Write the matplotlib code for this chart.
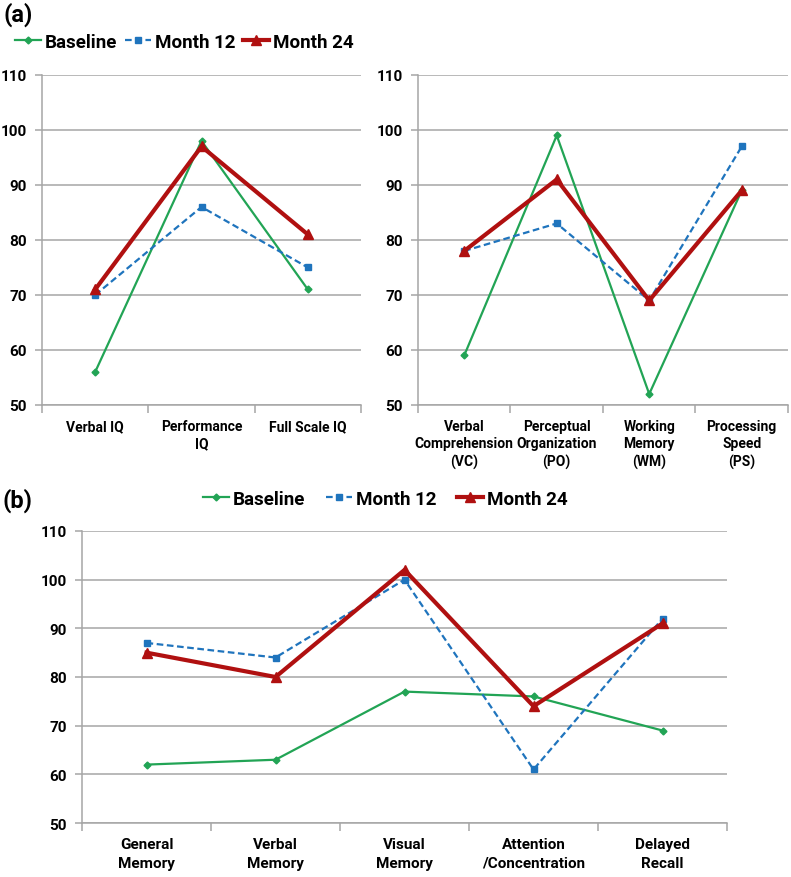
import matplotlib.pyplot as plt
import numpy as np

plt.rcParams['font.family'] = ['Roboto', 'DejaVu Sans']
plt.rcParams['font.weight'] = 'bold'

# Data
iq_labels = ['Verbal IQ', 'Performance\nIQ', 'Full Scale IQ']
iq_baseline = [56, 98, 71]
iq_month12 = [70, 86, 75]
iq_month24 = [71, 97, 81]

idx_labels = ['Verbal\nComprehension\n(VC)', 'Perceptual\nOrganization\n(PO)',
              'Working\nMemory\n(WM)', 'Processing\nSpeed\n(PS)']
idx_baseline = [59, 99, 52, 89]
idx_month12 = [78, 83, 69, 97]
idx_month24 = [78, 91, 69, 89]

mem_labels = ['General\nMemory', 'Verbal\nMemory', 'Visual\nMemory',
              'Attention\n/Concentration', 'Delayed\nRecall']
mem_baseline = [62, 63, 77, 76, 69]
mem_month12 = [87, 84, 100, 61, 92]
mem_month24 = [85, 80, 102, 74, 91]

GREEN = '#22a455'
BLUE = '#1f74bd'
RED = '#b01010'
GRID = '#a6a6a6'


def draw_panel(ax, labels, base, m12, m24, label_size=10, spacing=1.3):
    x = np.arange(len(labels))
    l1, = ax.plot(x, base, color=GREEN, lw=1.6, marker='D', ms=3.5, label='Baseline')
    l2, = ax.plot(x, m12, color=BLUE, lw=1.6, ls=(0, (3, 1.6)), marker='s', ms=5,
                  label='Month 12')
    l3, = ax.plot(x, m24, color=RED, lw=3, marker='^', ms=7, label='Month 24')
    ax.set_xlim(-0.5, len(labels) - 0.5)
    ax.set_ylim(50, 110)
    ax.set_yticks(range(50, 111, 10))
    ax.grid(axis='y', color=GRID, lw=1.1)
    ax.set_axisbelow(True)
    for s in ['top', 'right']:
        ax.spines[s].set_visible(False)
    for s in ['left', 'bottom']:
        ax.spines[s].set_color(GRID)
        ax.spines[s].set_linewidth(1.1)
    ax.set_xticks(x)
    ax.set_xticklabels(labels, fontsize=label_size, fontweight='bold', linespacing=spacing)
    ax.tick_params(axis='x', which='major', length=0, pad=10)
    ax.set_xticks(np.arange(-0.5, len(labels)), minor=True)
    ax.tick_params(axis='x', which='minor', length=6, color=GRID, width=1.1)
    ax.tick_params(axis='y', length=5, color=GRID, width=1.1, labelsize=11, pad=6)
    for t in ax.get_yticklabels():
        t.set_fontweight('bold')
    return [l1, l2, l3]


fig = plt.figure(figsize=(7.91, 8.78), dpi=100)

ax1 = fig.add_axes([0.0531, 0.5376, 0.4033, 0.3759])
handles = draw_panel(ax1, iq_labels, iq_baseline, iq_month12, iq_month24)

ax2 = fig.add_axes([0.5284, 0.5376, 0.4678, 0.3759])
draw_panel(ax2, idx_labels, idx_baseline, idx_month12, idx_month24)

ax3 = fig.add_axes([0.1037, 0.0615, 0.8154, 0.3326])
draw_panel(ax3, mem_labels, mem_baseline, mem_month12, mem_month24,
           label_size=11, spacing=1.45)

fig.text(0.005, 0.983, '(a)', fontsize=17, fontweight='bold', va='center')
fig.text(0.003, 0.430, '(b)', fontsize=17, fontweight='bold', va='center')

fig.legend(handles=handles, loc='center', bbox_to_anchor=(0.233, 0.951), ncol=3,
           frameon=False, handlelength=1.4, handletextpad=0.2,
           columnspacing=0.4, prop={'weight': 'bold', 'size': 13.5})
fig.legend(handles=handles, loc='center', bbox_to_anchor=(0.487, 0.431), ncol=3,
           frameon=False, handlelength=1.4, handletextpad=0.2,
           columnspacing=1.1, prop={'weight': 'bold', 'size': 13.5})

fig.savefig('out.png', dpi=100)
